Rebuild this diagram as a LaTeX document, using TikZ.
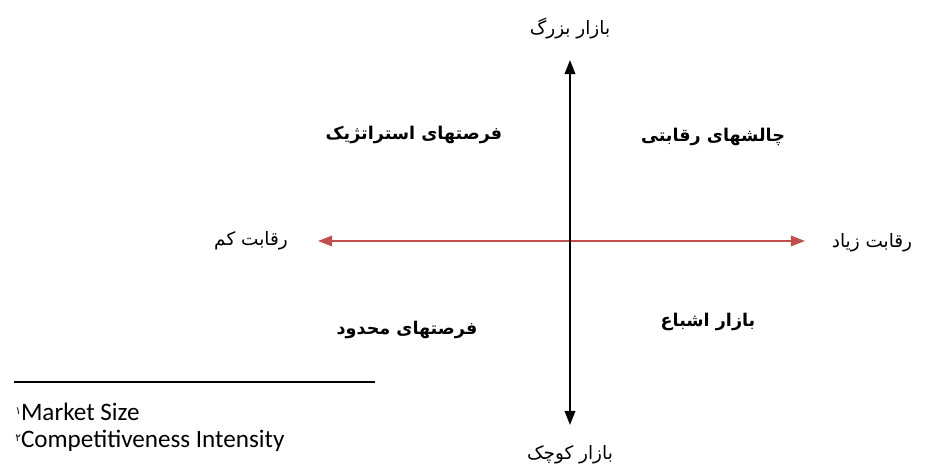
\documentclass[tikz,border=0pt]{standalone}
\usepackage{fontspec}
\setmainfont{Carlito}
\newfontfamily\farsi[Script=Arabic]{DejaVu Sans}
\TeXXeTstate=1
\usepackage{xcolor}
\usepackage{tikz}
\usetikzlibrary{arrows.meta,positioning}
\definecolor{redx}{HTML}{C0504D}
\tikzset{
  axv/.style={{Triangle[length=8pt,width=6pt]}-{Triangle[length=8pt,width=6pt]},line width=1.1pt,black},
  axh/.style={{Triangle[length=8pt,width=6pt]}-{Triangle[length=8pt,width=6pt]},line width=0.9pt,redx},
  lbl/.style={font=\farsi\fontsize{10.5}{12}\selectfont,inner sep=1pt},
  quad/.style={font=\farsi\bfseries\fontsize{10}{12}\selectfont,inner sep=1pt},
  fn/.style={font=\fontsize{14.3}{17}\selectfont,anchor=west,inner sep=0pt}
}
\newcommand{\fa}[1]{\beginR #1\endR}
\newcommand{\fnmark}[1]{{\farsi\fontsize{6}{6}\selectfont\raisebox{1.1ex}{#1}}}

\begin{document}
\begin{tikzpicture}[x=0.02cm,y=-0.02cm]
\useasboundingbox (0,0) rectangle (927,469);
% axes
\coordinate (top) at (570,60); \coordinate (bot) at (570,425);
\coordinate (lft) at (318,241); \coordinate (rgt) at (805,241);
\draw[axh] (lft) -- (rgt);
\draw[axv] (bot) -- (top);
% axis labels
\node[lbl] (big) at (570,28) {\fa{بازار بزرگ}};
\node[lbl] (small) at (570,455) {\fa{بازار کوچک}};
\node[lbl] (low) at (251,241) {\fa{رقابت کم}};
\node[lbl] (high) at (872,243) {\fa{رقابت زیاد}};
% quadrants
\node[quad] (q1) at (414,135) {\fa{فرصتهای استراتژیک}};
\node[quad] (q2) at (713,137) {\fa{چالشهای رقابتی}};
\node[quad] (q3) at (407,330) {\fa{فرصتهای محدود}};
\node[quad] (q4) at (708,322) {\fa{بازار اشباع}};
% footnotes
\coordinate (fa) at (14,382); \coordinate (fb) at (375,382);
\draw[line width=1pt] (fa) -- (fb);
\node[fn] (f1) at (15,412) {\fnmark{۱}Market Size};
\node[fn] (f2) at (15,441) {\fnmark{۲}Competitiveness Intensity};
\end{tikzpicture}
\end{document}
